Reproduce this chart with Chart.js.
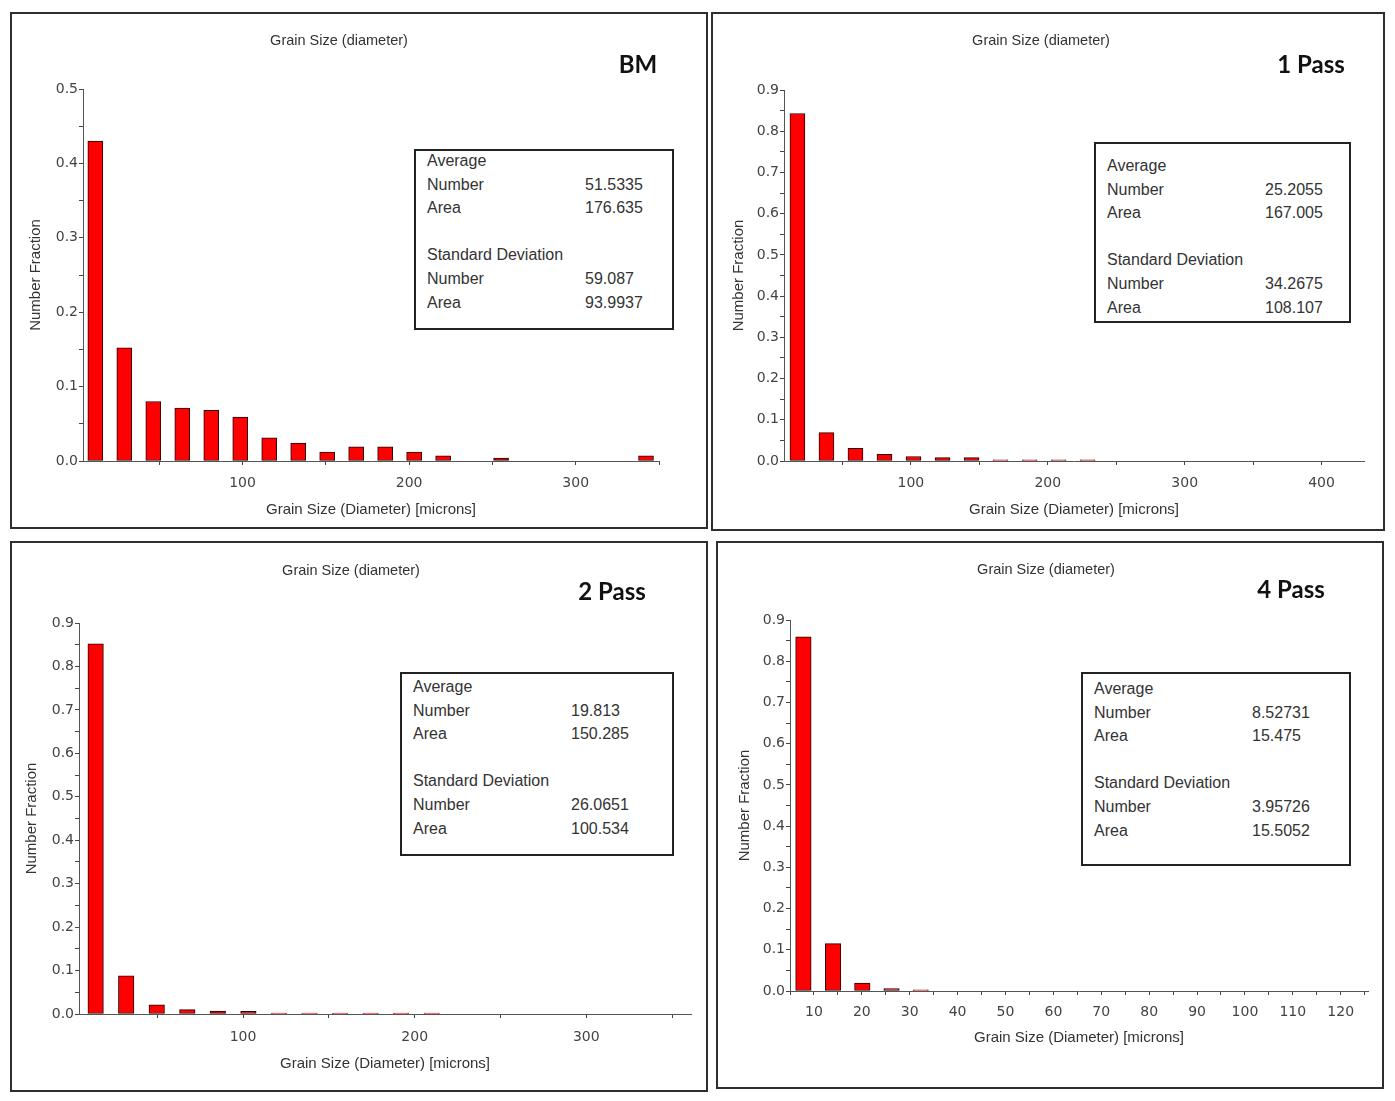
<!DOCTYPE html>
<html>
<head>
<meta charset="utf-8">
<script src="https://cdn.jsdelivr.net/npm/chart.js@4.4.1/dist/chart.umd.min.js"></script>
<style>
  body { margin: 0; background: #fff; width: 1395px; height: 1101px; position: relative; overflow: hidden;
         font-family: "Liberation Sans", Arial, sans-serif; }
  .panel { position: absolute; box-sizing: border-box; border: 2px solid #2e2e2e; }
  .panel canvas { position: absolute; left: 0; top: 0; }
  .ttl { position: absolute; font-size: 14.5px; color: #333; transform: translate(-50%, -50%); white-space: nowrap; }
  .tag { position: absolute; font: bold 24px Lato, "Open Sans", sans-serif; color: #111; transform: translate(-50%, -50%); white-space: nowrap; }
  .stats { position: absolute; box-sizing: border-box; border: 2px solid #222; background: #fff; font-size: 16px; color: #333; }
  .stats div { position: absolute; white-space: nowrap; transform: translateY(-50%); }
</style>
</head>
<body>
<script>
// grain size histograms, bin centres in microns and number fraction
const bmSize = [11.6, 29.0, 46.4, 63.8, 81.2, 98.6, 116.0, 133.4, 150.8, 168.2, 185.6, 203.0, 220.4, 255.2, 342.2];
const bmFraction = [0.430, 0.152, 0.080, 0.071, 0.068, 0.059, 0.031, 0.024, 0.012, 0.019, 0.019, 0.012, 0.007, 0.004, 0.007];

const pass1Size = [17.1, 38.3, 59.5, 80.7, 101.9, 123.1, 144.3, 165.5, 186.7, 207.9, 229.1];
const pass1Fraction = [0.843, 0.069, 0.031, 0.016, 0.011, 0.008, 0.008, 0.003, 0.003, 0.003, 0.003];

const pass2Size = [14.1, 31.9, 49.7, 67.5, 85.3, 103.1, 120.9, 138.7, 156.5, 174.3, 192.1, 209.9];
const pass2Fraction = [0.852, 0.088, 0.021, 0.010, 0.007, 0.006, 0.002, 0.002, 0.002, 0.002, 0.002, 0.002];

const pass4Size = [7.8, 14.0, 20.1, 26.2, 32.3];
const pass4Fraction = [0.859, 0.115, 0.019, 0.006, 0.003];

// statistics boxes: average number, average area, std number, std area
const bmStats = ['51.5335', '176.635', '59.087', '93.9937'];
const pass1Stats = ['25.2055', '167.005', '34.2675', '108.107'];
const pass2Stats = ['19.813', '150.285', '26.0651', '100.534'];
const pass4Stats = ['8.52731', '15.475', '3.95726', '15.5052'];

// ticks
const bmXTicks = [50, 100, 150, 200, 250, 300, 350];
const bmXLabels = [100, 200, 300];
const pass1XTicks = [50, 100, 150, 200, 250, 300, 350, 400];
const pass1XLabels = [100, 200, 300, 400];
const pass2XTicks = [50, 100, 150, 200, 250, 300, 350];
const pass2XLabels = [100, 200, 300];
const pass4XTicks = [5, 10, 15, 20, 25, 30, 35, 40, 45, 50, 55, 60, 65, 70, 75, 80, 85, 90, 95, 100, 105, 110, 115, 120, 125];
const pass4XLabels = [10, 20, 30, 40, 50, 60, 70, 80, 90, 100, 110, 120];
const bmYTicks = [0, 0.05, 0.1, 0.15, 0.2, 0.25, 0.3, 0.35, 0.4, 0.45, 0.5];
const bmYLabels = [0, 0.1, 0.2, 0.3, 0.4, 0.5];
const passYTicks = [0, 0.05, 0.1, 0.15, 0.2, 0.25, 0.3, 0.35, 0.4, 0.45, 0.5, 0.55, 0.6, 0.65, 0.7, 0.75, 0.8, 0.85, 0.9];
const passYLabels = [0, 0.1, 0.2, 0.3, 0.4, 0.5, 0.6, 0.7, 0.8, 0.9];

const chartTitle = 'Grain Size (diameter)';
const xTitle = 'Grain Size (Diameter) [microns]';
const yTitle = 'Number Fraction';
const statRows = ['Average', 'Number', 'Area', '', 'Standard Deviation', 'Number', 'Area'];

const panels = [
  { tag: 'BM', size: bmSize, frac: bmFraction, stats: bmStats,
    xTicks: bmXTicks, xLabels: bmXLabels, yTicks: bmYTicks, yLabels: bmYLabels,
    frame: { box: [10, 12, 698, 517], l: 83, r: 659, t: 89, b: 461, xMin: 4.2, xMax: 350, yMax: 0.5,
             yTitleX: 36, xTickY: 483, xTitleY: 510, title: [339, 40], tagAt: [638, 63],
             statBox: [414, 149, 260, 181], row0: 11, bar: 15 } },
  { tag: '1 Pass', size: pass1Size, frac: pass1Fraction, stats: pass1Stats,
    xTicks: pass1XTicks, xLabels: pass1XLabels, yTicks: passYTicks, yLabels: passYLabels,
    frame: { box: [711, 12, 674, 519], l: 784, r: 1364, t: 90, b: 461, xMin: 7.3, xMax: 431, yMax: 0.9,
             yTitleX: 739, xTickY: 483, xTitleY: 510, title: [1041, 40], tagAt: [1311, 63],
             statBox: [1094, 142, 257, 181], row0: 23, bar: 15 } },
  { tag: '2 Pass', size: pass2Size, frac: pass2Fraction, stats: pass2Stats,
    xTicks: pass2XTicks, xLabels: pass2XLabels, yTicks: passYTicks, yLabels: passYLabels,
    frame: { box: [10, 541, 698, 551], l: 79, r: 691, t: 623, b: 1014, xMin: 4.4, xMax: 361, yMax: 0.9,
             yTitleX: 32, xTickY: 1037, xTitleY: 1064, title: [351, 570], tagAt: [612, 590],
             statBox: [400, 672, 274, 184], row0: 14, bar: 15.5 } },
  { tag: '4 Pass', size: pass4Size, frac: pass4Fraction, stats: pass4Stats,
    xTicks: pass4XTicks, xLabels: pass4XLabels, yTicks: passYTicks, yLabels: passYLabels,
    frame: { box: [716, 541, 668, 548], l: 790, r: 1368, t: 620, b: 991, xMin: 5, xMax: 125.7, yMax: 0.9,
             yTitleX: 745, xTickY: 1012, xTitleY: 1038, title: [1046, 569], tagAt: [1291, 588],
             statBox: [1081, 672, 270, 194], row0: 16, bar: 15.5 } }
];

const TICK_FONT = { family: '"DejaVu Sans", Tahoma, sans-serif', size: 14 };
const TITLE_FONT = { family: '"Liberation Sans", Arial, sans-serif', size: 15 };
const TITLE_LH = 15 * 1.2;
const TICK_LH = 14 * 1.2;
const TICK_LEN = 4;

function addText(cls, text, x, y) {
  const el = document.createElement('div');
  el.className = cls;
  el.textContent = text;
  el.style.left = x + 'px';
  el.style.top = y + 'px';
  document.body.appendChild(el);
  return el;
}

function build(p) {
  const f = p.frame;
  const [bx, by, bw, bh] = f.box;

  const wrap = document.createElement('div');
  wrap.className = 'panel';
  Object.assign(wrap.style, { left: bx + 'px', top: by + 'px', width: bw + 'px', height: bh + 'px' });
  document.body.appendChild(wrap);

  // canvas sits just inside the 2px frame
  const cx = bx + 2, cy = by + 2, cw = bw - 4, ch = bh - 4;
  const cv = document.createElement('canvas');
  cv.width = cw; cv.height = ch;
  cv.style.width = cw + 'px'; cv.style.height = ch + 'px';
  wrap.appendChild(cv);

  new Chart(cv, {
    type: 'bar',
    data: {
      datasets: [{
        data: p.size.map((s, i) => ({ x: s, y: p.frac[i] })),
        backgroundColor: '#ff0000',
        borderColor: '#2a0000',
        borderWidth: 1,
        borderSkipped: false,
        barThickness: f.bar
      }]
    },
    options: {
      responsive: false,
      animation: false,
      layout: { padding: { left: 0, bottom: 0, top: f.t - cy, right: cx + cw - f.r } },
      plugins: { legend: { display: false }, tooltip: { enabled: false } },
      scales: {
        x: {
          type: 'linear',
          min: f.xMin,
          max: f.xMax,
          offset: false,
          afterBuildTicks: s => { s.ticks = p.xTicks.map(v => ({ value: v })); },
          afterFit: s => { s.height = cy + ch - f.b; },
          ticks: {
            autoSkip: false, maxRotation: 0, color: '#444', font: TICK_FONT,
            padding: f.xTickY - f.b - TICK_LEN - TICK_LH / 2,
            callback: v => p.xLabels.includes(v) ? String(v) : ''
          },
          grid: { offset: false, drawOnChartArea: false, tickLength: TICK_LEN, color: '#444' },
          border: { color: '#555', width: 1 },
          title: {
            display: true, text: xTitle, color: '#333', font: TITLE_FONT,
            padding: { top: 0, bottom: cy + ch - f.xTitleY - TITLE_LH / 2 }
          }
        },
        y: {
          min: 0,
          max: f.yMax,
          afterBuildTicks: s => { s.ticks = p.yTicks.map(v => ({ value: v })); },
          afterFit: s => { s.width = f.l - cx; },
          ticks: {
            color: '#444', font: TICK_FONT, padding: 1,
            callback: v => p.yLabels.some(l => Math.abs(l - v) < 1e-9) ? v.toFixed(1) : ''
          },
          grid: { drawOnChartArea: false, tickLength: TICK_LEN, color: '#444' },
          border: { color: '#555', width: 1 },
          title: {
            display: true, text: yTitle, color: '#333', font: TITLE_FONT,
            padding: { top: f.yTitleX - cx - TITLE_LH / 2, bottom: 0 }
          }
        }
      }
    }
  });

  addText('ttl', chartTitle, f.title[0], f.title[1]);
  addText('tag', p.tag, f.tagAt[0], f.tagAt[1]);

  // statistics box
  const [sx, sy, sw, sh] = f.statBox;
  const box = document.createElement('div');
  box.className = 'stats';
  Object.assign(box.style, { left: sx + 'px', top: sy + 'px', width: sw + 'px', height: sh + 'px' });
  const values = [null, p.stats[0], p.stats[1], null, null, p.stats[2], p.stats[3]];
  statRows.forEach((name, i) => {
    const y = f.row0 + i * 23.6 - 1;
    if (name) {
      const a = document.createElement('div');
      a.textContent = name;
      a.style.left = '11px'; a.style.top = y + 'px';
      box.appendChild(a);
    }
    if (values[i]) {
      const b = document.createElement('div');
      b.textContent = values[i];
      b.style.left = '169px'; b.style.top = y + 'px';
      box.appendChild(b);
    }
  });
  document.body.appendChild(box);
}

panels.forEach(build);
</script>
</body>
</html>
